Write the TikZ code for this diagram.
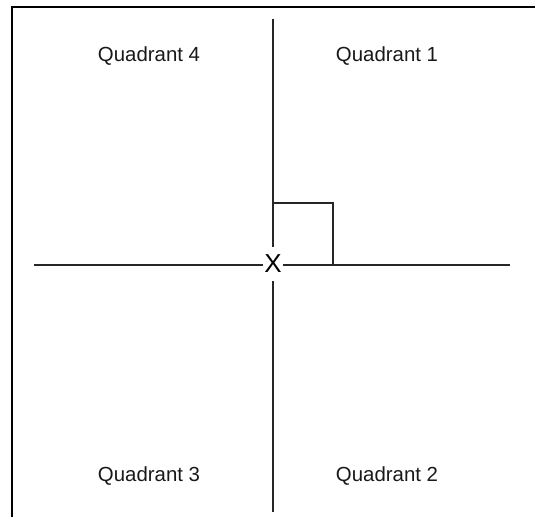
\documentclass[tikz,border=0pt]{standalone}
\usepackage{fontspec}
\setmainfont{Liberation Sans}
\begin{document}
\begin{tikzpicture}[x=0.75pt,y=-0.75pt,
  axis/.style={line width=1.1pt,draw=black!85},
  frame/.style={line width=1.6pt,draw=black},
  qlabel/.style={font=\fontsize{15.3}{17}\selectfont,text=black!90,inner sep=0pt},
  originmark/.style={font=\fontsize{19.5}{20}\selectfont,fill=white,inner sep=0pt,minimum width=20*0.75pt,minimum height=34*0.75pt}]
\useasboundingbox (0,0) rectangle (535,517);
% frame (left and top sides only)
\coordinate (fbl) at (12,517);
\coordinate (ftl) at (12,7);
\coordinate (ftr) at (535,7);
\draw[frame] (fbl) -- (ftl) -- (ftr);
% axes
\coordinate (top) at (273,19);
\coordinate (bottom) at (273,512);
\coordinate (left) at (34,265);
\coordinate (right) at (510,265);
\node[originmark] (origin) at (273,264) {X};
\draw[axis] (top) -- (origin.north -| top);
\draw[axis] (origin.south -| bottom) -- (bottom);
\draw[axis] (left) -- (origin.west |- left);
\draw[axis] (origin.east |- right) -- (right);
% right-angle mark
\coordinate (sqa) at (273,203);
\coordinate (sqb) at (333,203);
\coordinate (sqc) at (333,265);
\draw[axis] (sqa) -- (sqb) -- (sqc);
% labels
\node[qlabel] (q4) at (149,56) {Quadrant 4};
\node[qlabel] (q1) at (387,56) {Quadrant 1};
\node[qlabel] (q3) at (149,476) {Quadrant 3};
\node[qlabel] (q2) at (387,476) {Quadrant 2};
\end{tikzpicture}
\end{document}
